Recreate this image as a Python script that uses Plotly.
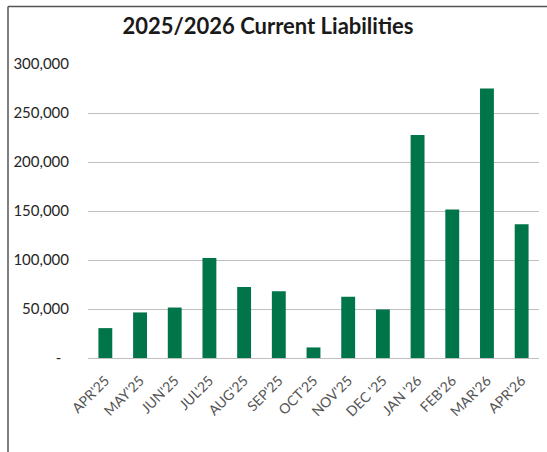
import plotly.graph_objects as go

# Monthly current liabilities, April 2025 - April 2026
months = ["APR'25", "MAY'25", "JUN'25", "JUL'25", "AUG'25", "SEP'25", "OCT'25",
          "NOV'25", "DEC '25", "JAN '26", "FEB'26", "MAR'26", "APR'26"]
liabilities = [30500, 46500, 51500, 102000, 72500, 68000, 10800,
               62500, 49500, 227500, 151500, 275000, 136500]

y_tick_values = [0, 50000, 100000, 150000, 200000, 250000, 300000]
y_tick_labels = ["-\u00a0\u00a0", "50,000", "100,000", "150,000", "200,000", "250,000", "300,000"]

W, H = 547, 452
L, R, T, B = 88, 8, 64, 94
pw, ph = W - L - R, H - T - B

def px_x(x):
    return (x - L) / pw

def px_y(y):
    return (H - B - y) / ph

fig = go.Figure(
    go.Bar(
        x=months,
        y=liabilities,
        marker=dict(color="#00754A", line=dict(width=0)),
        width=0.4,
    )
)

fig.update_layout(
    width=W,
    height=H,
    margin=dict(l=L, r=R, t=T, b=B),
    paper_bgcolor="white",
    plot_bgcolor="white",
    showlegend=False,
    font=dict(family="Lato, Carlito, sans-serif"),
    title=dict(
        text="<b>2025/2026 Current Liabilities</b>",
        x=px_x(268), xref="paper", xanchor="center",
        y=1 - 26 / H, yref="container", yanchor="middle",
        font=dict(size=22, color="#1a1a1a", family="Lato, sans-serif"),
    ),
    bargap=0.6,
)

fig.update_xaxes(
    tickangle=-45,
    tickfont=dict(size=14, color="#555555"),
    showgrid=False,
    showline=True,
    linecolor="#bfbfbf",
    linewidth=1,
    ticks="",
    ticklabelstandoff=8,
)

fig.update_yaxes(
    range=[0, 300000],
    tickvals=y_tick_values,
    ticktext=y_tick_labels,
    tickfont=dict(size=15, color="#262626"),
    showgrid=True,
    gridcolor="#bfbfbf",
    gridwidth=1,
    zeroline=False,
    showline=False,
    ticks="",
    ticklabelstandoff=18,
)

# Outer chart frame (left and top edges)
frame = dict(type="line", xref="paper", yref="paper",
             line=dict(color="#555555", width=1.5))
fig.add_shape(**frame, x0=px_x(8), x1=px_x(8), y0=px_y(6.5), y1=px_y(452))
fig.add_shape(**frame, x0=px_x(8), x1=px_x(547), y0=px_y(6.5), y1=px_y(6.5))

fig.write_html("out.html")
